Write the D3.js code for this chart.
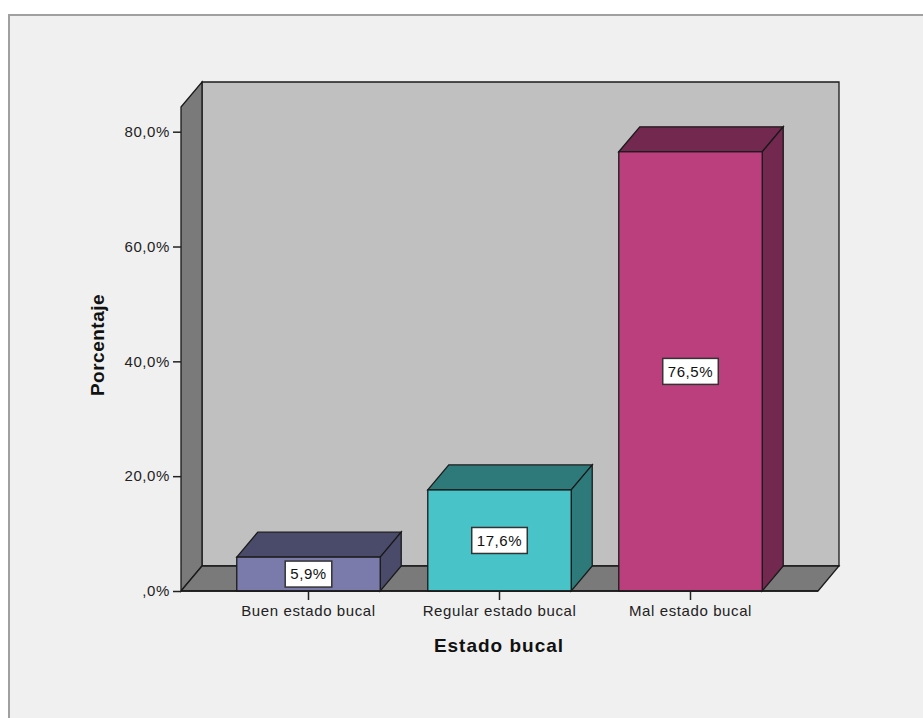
<!DOCTYPE html>
<html>
<head>
<meta charset="utf-8">
<script src="https://cdn.jsdelivr.net/npm/d3@7"></script>
<style>
  html, body { margin: 0; padding: 0; background: #ffffff; }
  svg { display: block; }
</style>
</head>
<body>
<svg id="chart" width="923" height="718"></svg>
<script>
// ---- data ----
const categories = ["Buen estado bucal", "Regular estado bucal", "Mal estado bucal"];
const values = [5.9, 17.6, 76.5];
const valueLabels = ["5,9%", "17,6%", "76,5%"];
const tickValues = [0, 20, 40, 60, 80];
const tickLabels = [",0%", "20,0%", "40,0%", "60,0%", "80,0%"];
const frontColors = ["#7b7bab", "#48c3c8", "#bc3f7d"];
const darkColors = ["#4a4a6a", "#2e7a7b", "#72284f"];
const xTitle = "Estado bucal";
const yTitle = "Porcentaje";

// ---- layout ----
const svg = d3.select("#chart");
const x0 = 181, x1 = 818, yBottom = 591, yTop = 107;
const dx = 21, dy = 25;

const x = d3.scaleBand().domain(categories).range([x0, x1])
  .paddingInner(0.249).paddingOuter(0.292);
const y = d3.scaleLinear().domain([0, 84.3]).range([yBottom, yTop]);

// outer frame
svg.append("rect").attr("x", 9).attr("y", 15).attr("width", 930).attr("height", 720)
  .attr("fill", "#f0f0f0").attr("stroke", "#a0a0a0").attr("stroke-width", 2);

const stroke = "#1a1a1a", sw = 1.3;
const poly = pts => "M" + pts.map(p => p.join(",")).join("L") + "Z";

// back wall
svg.append("path").attr("d", poly([[x0+dx, yTop-dy],[x1+dx, yTop-dy],[x1+dx, yBottom-dy],[x0+dx, yBottom-dy]]))
  .attr("fill", "#c0c0c0").attr("stroke", stroke).attr("stroke-width", sw);
// left wall
svg.append("path").attr("d", poly([[x0, yTop],[x0+dx, yTop-dy],[x0+dx, yBottom-dy],[x0, yBottom]]))
  .attr("fill", "#7a7a7a").attr("stroke", stroke).attr("stroke-width", sw);
// floor
svg.append("path").attr("d", poly([[x0, yBottom],[x0+dx, yBottom-dy],[x1+dx, yBottom-dy],[x1, yBottom]]))
  .attr("fill", "#7a7a7a").attr("stroke", stroke).attr("stroke-width", sw);

// bars
const bars = svg.append("g").selectAll("g").data(categories).join("g");
bars.each(function(c, i) {
  const g = d3.select(this);
  const bx = x(c), bw = x.bandwidth(), by = y(values[i]);
  // top
  g.append("path").attr("d", poly([[bx, by],[bx+dx, by-dy],[bx+bw+dx, by-dy],[bx+bw, by]]))
    .attr("fill", darkColors[i]).attr("stroke", stroke).attr("stroke-width", sw);
  // side
  g.append("path").attr("d", poly([[bx+bw, by],[bx+bw+dx, by-dy],[bx+bw+dx, yBottom-dy],[bx+bw, yBottom]]))
    .attr("fill", darkColors[i]).attr("stroke", stroke).attr("stroke-width", sw);
  // front
  g.append("rect").attr("x", bx).attr("y", by).attr("width", bw).attr("height", yBottom - by)
    .attr("fill", frontColors[i]).attr("stroke", stroke).attr("stroke-width", sw);
  // label
  const cx = bx + bw / 2, cy = (by + yBottom) / 2;
  const t = g.append("text").attr("x", cx).attr("y", cy).attr("dy", "0.36em")
    .attr("text-anchor", "middle")
    .style("font-family", "'Liberation Sans', Arial, sans-serif").style("font-size", "15px")
    .style("letter-spacing", "0.6px").attr("fill", "#111").text(valueLabels[i]);
  const bb = t.node().getBBox();
  g.insert("rect", "text").attr("x", cx - bb.width/2 - 5).attr("y", cy - 13)
    .attr("width", bb.width + 10).attr("height", 26)
    .attr("fill", "#ffffff").attr("stroke", "#333").attr("stroke-width", 1.5);
});

// front bottom edge
svg.append("line").attr("x1", x0).attr("x2", x1).attr("y1", yBottom).attr("y2", yBottom)
  .attr("stroke", stroke).attr("stroke-width", 1.5);

// y axis
const yAxis = d3.axisLeft(y).tickValues(tickValues).tickSize(8).tickPadding(3)
  .tickFormat((d, i) => tickLabels[i]);
const ya = svg.append("g").attr("transform", `translate(${x0},0)`).call(yAxis);
ya.select(".domain").remove();
ya.selectAll(".tick line").attr("stroke", "#222").attr("stroke-width", 1.5);
ya.selectAll(".tick text").attr("fill", "#222")
  .style("font-family", "'Liberation Sans', Arial, sans-serif").style("font-size", "15px")
  .style("letter-spacing", "0.6px");

// x axis
const xAxis = d3.axisBottom(x).tickSize(9).tickPadding(5);
const xa = svg.append("g").attr("transform", `translate(0,${yBottom})`).call(xAxis);
xa.select(".domain").remove();
xa.selectAll(".tick line").attr("stroke", "#222").attr("stroke-width", 1.5);
xa.selectAll(".tick text").attr("fill", "#222")
  .style("font-family", "'Liberation Sans', Arial, sans-serif").style("font-size", "15px")
  .style("letter-spacing", "0.6px");

// titles
svg.append("text").attr("x", 499).attr("y", 652).attr("text-anchor", "middle")
  .style("font-family", "'Liberation Sans', Arial, sans-serif").style("font-size", "19px")
  .style("font-weight", "bold").style("letter-spacing", "1px").attr("fill", "#111").text(xTitle);
svg.append("text").attr("transform", "translate(104,345) rotate(-90)").attr("text-anchor", "middle")
  .style("font-family", "'Liberation Sans', Arial, sans-serif").style("font-size", "19px")
  .style("font-weight", "bold").style("letter-spacing", "0.5px").attr("fill", "#111").text(yTitle);
</script>
</body>
</html>
